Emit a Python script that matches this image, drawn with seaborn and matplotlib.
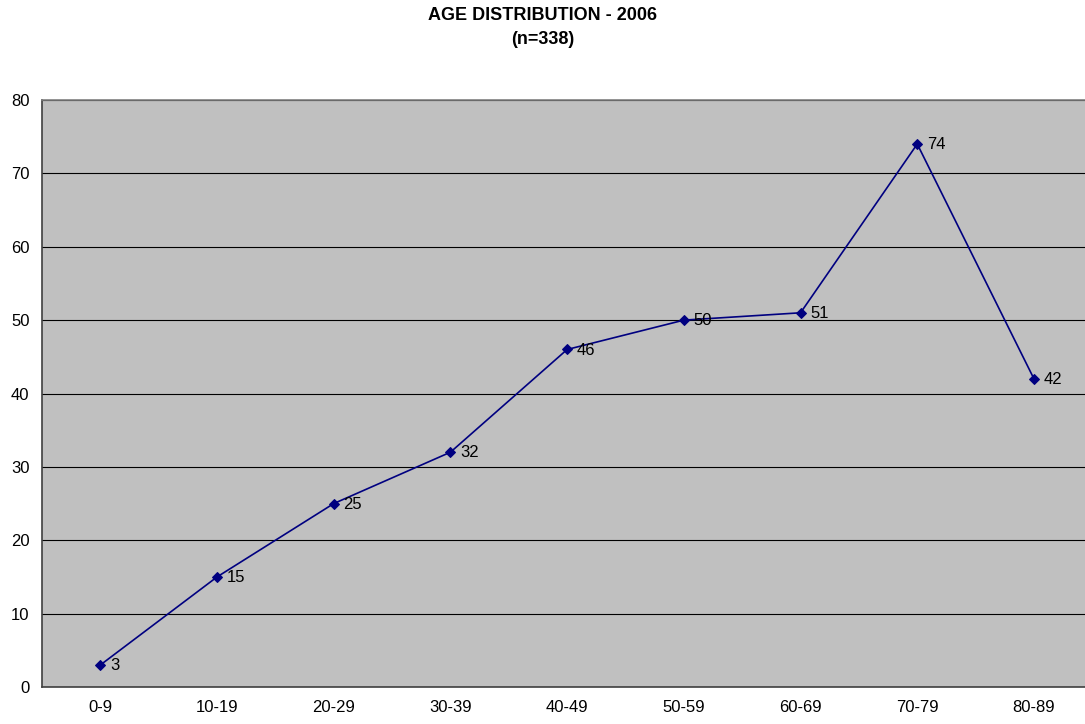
import matplotlib
matplotlib.use("Agg")
import matplotlib.pyplot as plt
import seaborn as sns
import pandas as pd

categories = ["0-9", "10-19", "20-29", "30-39", "40-49", "50-59", "60-69", "70-79", "80-89"]
counts = [3, 15, 25, 32, 46, 50, 51, 74, 42]
yticks = [0, 10, 20, 30, 40, 50, 60, 70, 80]

sns.set_style("white")
plt.rcParams['font.family'] = ['Liberation Sans', 'DejaVu Sans']
plt.rcParams['text.color'] = 'black'
plt.rcParams['xtick.color'] = 'black'
plt.rcParams['ytick.color'] = 'black'

df = pd.DataFrame({"x": range(len(categories)), "count": counts})

fig = plt.figure(figsize=(10.85, 7.24), dpi=100)
W, H = 1085, 724
ax = fig.add_axes([42 / W, 37 / H, (116.7 * 9) / W, 587 / H])
ax.set_facecolor("#C0C0C0")

sns.lineplot(data=df, x="x", y="count", ax=ax, color="#000080", marker="D",
             markersize=5, markeredgecolor="#000080", linewidth=1.2, zorder=3)

for i, v in enumerate(counts):
    ax.annotate(str(v), (i, v), xytext=(7, -0.5), textcoords="offset points",
                va="center", ha="left", fontsize=12, color="black", zorder=4)

ax.set_xlim(-0.5, len(categories) - 0.5)
ax.set_ylim(0, 80)
ax.set_yticks(yticks)
ax.set_yticklabels([str(t) for t in yticks], fontsize=12)
ax.set_xticks(range(len(categories)))
ax.set_xticklabels(categories, fontsize=12)
ax.set_xticks([i + 0.5 for i in range(len(categories) - 1)], minor=True)
ax.tick_params(axis="x", which="major", length=0, pad=9)
ax.tick_params(axis="x", which="minor", length=5, width=1, color="black", direction="out")
ax.tick_params(axis="y", length=5, width=1, color="#404040", direction="out", pad=4)
ax.grid(axis="y", color="black", linewidth=0.8)
ax.grid(axis="x", visible=False)
ax.set_axisbelow(True)
ax.set_xlabel("")
ax.set_ylabel("")

ax.spines["left"].set_color("#404040")
ax.spines["bottom"].set_color("#404040")
ax.spines["top"].set_color("#808080")
ax.spines["right"].set_visible(False)
for s in ax.spines.values():
    s.set_linewidth(1.2)

fig.text(543 / W, 1 - 16 / H, "AGE DISTRIBUTION - 2006", ha="center", va="center",
         fontsize=13, fontweight="bold")
fig.text(543 / W, 1 - 39 / H, "(n=338)", ha="center", va="center",
         fontsize=13, fontweight="bold")

fig.savefig("out.png", dpi=100)
